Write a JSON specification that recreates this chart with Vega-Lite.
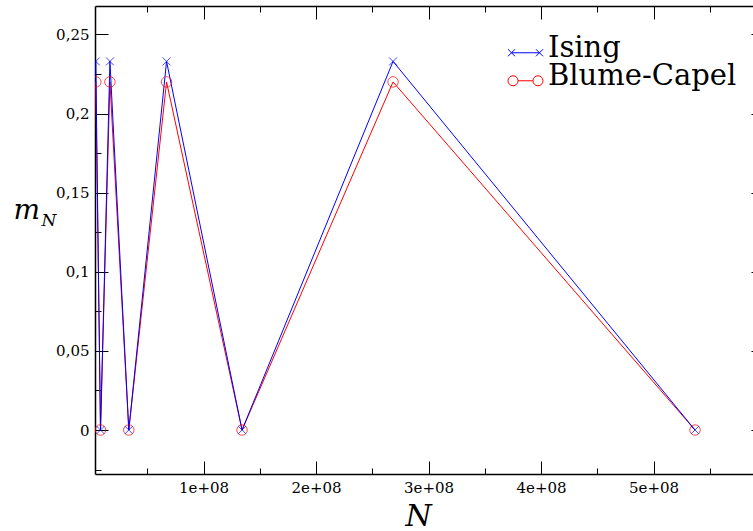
{
  "$schema": "https://vega.github.io/schema/vega-lite/v6.json",
  "width": 658,
  "height": 468,
  "autosize": {"type": "none"},
  "padding": {"left": 95, "top": 6, "right": 0, "bottom": 57},
  "background": "white",
  "config": {
    "view": {"stroke": null},
    "axis": {"labelFont": "DejaVu Serif", "titleFont": "DejaVu Serif", "grid": false, "labelColor": "black", "titleColor": "black", "tickColor": "black", "domainColor": "black", "titleFontWeight": "normal"}
  },
  "data": {
    "values": [
      {"N": 4194304, "m": 0.233, "series": "Ising"},
      {"N": 8388608, "m": 0, "series": "Ising"},
      {"N": 16777216, "m": 0.233, "series": "Ising"},
      {"N": 33554432, "m": 0, "series": "Ising"},
      {"N": 67108864, "m": 0.233, "series": "Ising"},
      {"N": 134217728, "m": 0, "series": "Ising"},
      {"N": 268435456, "m": 0.233, "series": "Ising"},
      {"N": 536870912, "m": 0, "series": "Ising"},
      {"N": 4194304, "m": 0.22, "series": "Blume-Capel"},
      {"N": 8388608, "m": 0, "series": "Blume-Capel"},
      {"N": 16777216, "m": 0.22, "series": "Blume-Capel"},
      {"N": 33554432, "m": 0, "series": "Blume-Capel"},
      {"N": 67108864, "m": 0.22, "series": "Blume-Capel"},
      {"N": 134217728, "m": 0, "series": "Blume-Capel"},
      {"N": 268435456, "m": 0.22, "series": "Blume-Capel"},
      {"N": 536870912, "m": 0, "series": "Blume-Capel"}
    ]
  },
  "resolve": {"axis": {"x": "independent", "y": "independent"}},
  "layer": [
    {
      "transform": [{"filter": "datum.series === 'Blume-Capel'"}],
      "mark": {"type": "line", "strokeWidth": 1, "clip": true},
      "encoding": {
        "x": {
          "field": "N", "type": "quantitative",
          "scale": {"domain": [3500000, 588400000], "nice": false, "zero": false},
          "axis": {
            "orient": "bottom", "values": [100000000, 200000000, 300000000, 400000000, 500000000],
            "labelExpr": "(datum.value / 100000000) + 'e+08'",
            "ticks": false, "domain": true, "domainWidth": 1.5,
            "labelFontSize": 15, "labelPadding": 6,
            "title": "N", "titleFontSize": 30, "titleFontStyle": "italic",
            "titleX": 323, "titleY": 51, "titleBaseline": "alphabetic", "titleAlign": "center"
          }
        },
        "y": {
          "field": "m", "type": "quantitative",
          "scale": {"domain": [-0.0278, 0.268], "nice": false, "zero": false},
          "axis": {
            "orient": "left", "values": [0, 0.05, 0.1, 0.15, 0.2, 0.25],
            "labelExpr": "replace(format(datum.value, '.2~f'), '.', ',')",
            "ticks": false, "domain": true, "domainWidth": 1.5,
            "labelFontSize": 15, "labelPadding": 6,
            "title": "m", "titleFontSize": 28, "titleFontStyle": "italic", "titleAngle": 0,
            "titleX": -82, "titleY": 212, "titleBaseline": "alphabetic", "titleAlign": "left"
          }
        },
        "color": {
          "field": "series", "type": "nominal",
          "scale": {"domain": ["Ising", "Blume-Capel"], "range": ["#0000ff", "#ff0000"]},
          "legend": {
            "orient": "none", "legendX": 416, "legendY": 36, "title": null,
            "labelFont": "DejaVu Serif", "labelFontSize": 29, "labelLimit": 500,
            "labelBaseline": "alphabetic", "labelOffset": 8, "labelColor": "black",
            "symbolSize": 544, "rowPadding": -2, "padding": 0, "symbolStrokeWidth": 1,
            "encode": {
              "symbols": {
                "update": {
                  "shape": {"signal": "datum.value === 'Ising' ? 'M-1.2,-0.32H1.2M-1.5,-0.62L-0.9,-0.02M-1.5,-0.02L-0.9,-0.62M0.9,-0.62L1.5,-0.02M0.9,-0.02L1.5,-0.62' : 'M-0.64,-0.32H0.64M-1.5,-0.32A0.43,0.43 0 1,0 -0.64,-0.32A0.43,0.43 0 1,0 -1.5,-0.32ZM0.64,-0.32A0.43,0.43 0 1,0 1.5,-0.32A0.43,0.43 0 1,0 0.64,-0.32Z'"},
                  "fill": {"value": "transparent"},
                  "strokeWidth": {"value": 1}
                }
              }
            }
          }
        }
      }
    },
    {
      "transform": [{"filter": "datum.series === 'Ising'"}],
      "mark": {"type": "line", "strokeWidth": 1, "clip": true},
      "encoding": {
        "x": {
          "field": "N", "type": "quantitative",
          "axis": {
            "orient": "bottom",
            "values": [50000000, 100000000, 150000000, 200000000, 250000000, 300000000, 350000000, 400000000, 450000000, 500000000, 550000000],
            "labels": false, "domain": false, "ticks": true, "tickWidth": 1, "title": null,
            "tickSize": {"condition": {"test": "datum.value % 100000000 === 0", "value": -13}, "value": -6}
          }
        },
        "y": {
          "field": "m", "type": "quantitative",
          "axis": {
            "orient": "left",
            "values": [-0.025, 0, 0.025, 0.05, 0.075, 0.1, 0.125, 0.15, 0.175, 0.2, 0.225, 0.25],
            "labels": false, "domain": false, "ticks": true, "tickWidth": 1,
            "tickSize": {"condition": {"test": "abs(datum.value * 20 - round(datum.value * 20)) < 0.001", "value": -13}, "value": -6},
            "title": "N", "titleFontSize": 17, "titleFontStyle": "italic", "titleAngle": 0,
            "titleX": -54, "titleY": 219, "titleBaseline": "alphabetic", "titleAlign": "left"
          }
        },
        "color": {"field": "series", "type": "nominal", "legend": null}
      }
    },
    {
      "transform": [{"filter": "datum.series === 'Blume-Capel'"}],
      "mark": {"type": "point", "shape": "circle", "filled": false, "size": 110, "strokeWidth": 1, "clip": true},
      "encoding": {
        "x": {
          "field": "N", "type": "quantitative",
          "axis": {
            "orient": "top",
            "values": [50000000, 100000000, 150000000, 200000000, 250000000, 300000000, 350000000, 400000000, 450000000, 500000000, 550000000],
            "labels": false, "domain": true, "domainWidth": 1.5, "ticks": true, "tickWidth": 1, "title": null,
            "tickSize": {"condition": {"test": "datum.value % 100000000 === 0", "value": -13}, "value": -6}
          }
        },
        "y": {
          "field": "m", "type": "quantitative",
          "axis": {
            "orient": "right",
            "values": [0, 0.05, 0.1, 0.15, 0.2, 0.25],
            "labels": false, "domain": false, "ticks": true, "tickSize": -2, "tickWidth": 1, "title": null
          }
        },
        "color": {"field": "series", "type": "nominal", "legend": null}
      }
    },
    {
      "transform": [{"filter": "datum.series === 'Ising'"}],
      "mark": {"type": "point", "shape": "M-1,-1L1,1M-1,1L1,-1", "filled": false, "size": 64, "strokeWidth": 1, "clip": true},
      "encoding": {
        "x": {"field": "N", "type": "quantitative", "axis": null},
        "y": {"field": "m", "type": "quantitative", "axis": null},
        "color": {"field": "series", "type": "nominal", "legend": null}
      }
    }
  ]
}
